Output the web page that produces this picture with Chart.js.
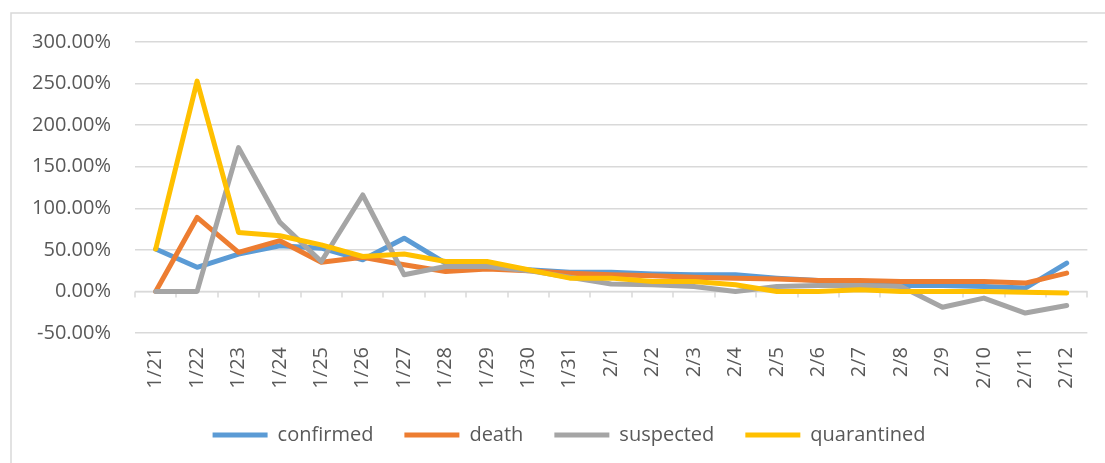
<!DOCTYPE html>
<html>
<head>
<meta charset="utf-8">
<script src="https://cdn.jsdelivr.net/npm/chart.js@4.4.1/dist/chart.umd.min.js"></script>
<style>
  html, body { margin: 0; padding: 0; background: #fff; }
  #wrap { width: 1105px; height: 463px; }
</style>
</head>
<body>
<div id="wrap"><canvas id="chart" width="1105" height="463"></canvas></div>
<script>
// daily growth rates, in percent
const days = ["1/21", "1/22", "1/23", "1/24", "1/25", "1/26", "1/27", "1/28", "1/29", "1/30", "1/31",
    "2/1", "2/2", "2/3", "2/4", "2/5", "2/6", "2/7", "2/8", "2/9", "2/10", "2/11", "2/12"];
const confirmed = [51, 29, 45, 55, 52, 38, 64, 34, 30, 26, 23, 23, 21, 20, 20, 16, 13, 10, 7, 7, 6, 4, 34];
const death = [0, 89, 47, 61, 35, 41, 32, 24, 27, 25, 22, 20, 19, 17, 16, 15, 13, 13, 12, 12, 12, 10, 22];
const suspected = [0, 0, 173, 83, 36, 116, 20, 30, 30, 25, 17, 9, 8, 6, 0, 6, 7, 7, 6, -19, -8, -26, -17];
const quarantined = [51, 253, 71, 67, 56, 42, 45, 36, 36, 26, 16, 16, 12, 12, 8, 0, 0, 2, 0, 0, 0, -1, -2];
const yMin = -50;
const yMax = 300;
const yStep = 50;

const GRID = "#d9d9d9";
const TEXT = "#595959";
const FONT = "'Open Sans', sans-serif";

// light chart border like the spreadsheet frame
const frame = {
    id: "frame",
    beforeDraw(chart) {
        const ctx = chart.ctx;
        ctx.save();
        ctx.fillStyle = "#fff";
        ctx.fillRect(0, 0, chart.width, chart.height);
        ctx.strokeStyle = GRID;
        ctx.lineWidth = 1.5;
        ctx.beginPath();
        ctx.moveTo(11, chart.height);
        ctx.lineTo(11, 13);
        ctx.lineTo(chart.width, 13);
        ctx.stroke();
        ctx.restore();
    },
};

// category axis crosses at 0%, with tick marks between days
const zeroAxis = {
    id: "zeroAxis",
    beforeDatasetsDraw(chart) {
        const { ctx, scales: { x, y } } = chart;
        const y0 = y.getPixelForValue(0);
        ctx.save();
        ctx.strokeStyle = GRID;
        ctx.lineWidth = 1.5;
        ctx.beginPath();
        ctx.moveTo(x.left, y0);
        ctx.lineTo(x.right, y0);
        for (let i = 0; i <= days.length; i++) {
            const px = Math.round(x.getPixelForValue(i - 0.5));
            ctx.moveTo(px, y0);
            ctx.lineTo(px, y0 + 6);
        }
        ctx.stroke();
        ctx.restore();
    },
};

// the legend sits centred on the whole chart, a bit right of the plot centre
const legendShift = {
    id: "legendShift",
    afterLayout(chart) {
        chart.legend.left += 24;
        chart.legend.right += 24;
    },
};

function series(label, data, color, order) {
    return {
        label,
        data,
        borderColor: color,
        backgroundColor: color,
        borderWidth: 5,
        borderCapStyle: "round",
        borderJoinStyle: "round",
        pointRadius: 0,
        pointHoverRadius: 0,
        tension: 0,
        order,
    };
}

new Chart(document.getElementById("chart"), {
    type: "line",
    data: {
        labels: days,
        datasets: [
            series("confirmed", confirmed, "#5b9bd5", 4),
            series("death", death, "#ed7d31", 3),
            series("suspected", suspected, "#a5a5a5", 2),
            series("quarantined", quarantined, "#ffc000", 1),
        ],
    },
    options: {
        responsive: false,
        animation: false,
        devicePixelRatio: 1,
        layout: { padding: { left: 0, right: 15, top: 42, bottom: 8 } },
        scales: {
            x: {
                offset: true,
                grid: { display: false, drawTicks: false },
                border: { display: false },
                ticks: {
                    autoSkip: false,
                    minRotation: 90,
                    maxRotation: 90,
                    padding: 14,
                    color: TEXT,
                    font: { family: FONT, size: 20 },
                },
                afterFit(scale) {
                    scale.height = 61;
                },
            },
            y: {
                min: yMin,
                max: yMax,
                grid: { color: GRID, lineWidth: 1.5, drawTicks: false },
                border: { display: false },
                ticks: {
                    stepSize: yStep,
                    padding: 24,
                    color: TEXT,
                    font: { family: FONT, size: 20 },
                    callback: (v) => v.toFixed(2) + "%",
                },
                afterFit(scale) {
                    scale.width = 135;
                },
            },
        },
        plugins: {
            tooltip: { enabled: false },
            legend: {
                position: "bottom",
                labels: {
                    usePointStyle: true,
                    pointStyle: "line",
                    pointStyleWidth: 55,
                    padding: 31,
                    color: TEXT,
                    font: { family: FONT, size: 20 },
                    sort: (a, b) => a.datasetIndex - b.datasetIndex,
                },
            },
        },
    },
    plugins: [frame, zeroAxis, legendShift],
});
</script>
</body>
</html>
